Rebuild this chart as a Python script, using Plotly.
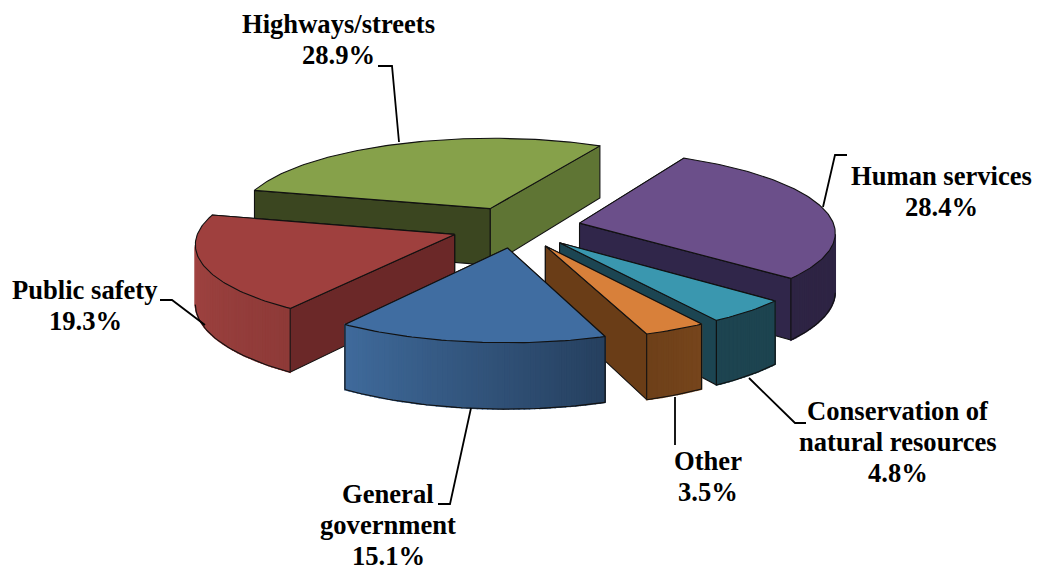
import numpy as np
import plotly.graph_objects as go

# Budget shares in clockwise order around the pie
categories = ["Highways/streets", "Human services", "Conservation of natural resources",
              "Other", "General government", "Public safety"]
shares = [28.9, 28.4, 4.8, 3.5, 15.1, 19.3]

# Label text, one entry per printed line (the percentage line is added from the share)
label_lines = [["Highways/streets"], ["Human services"], ["Conservation of", "natural resources"],
               ["Other"], ["General", "government"], ["Public safety"]]

# Pie geometry (pixels on the hidden axes)
CX, CY = 516, 227
R, RY_RATIO = 255, 0.317
EXPLODE = 65
THICK = 58
PERSP = 0.1
FIRST_SLICE_END = 28.0  # angle, clockwise from the back, where the first slice ends

palette = {
    "Highways/streets": dict(top="#86A14A", cut0="#3B4620", cut1="#5F7534", rim=("#5F7534", "#5F7534")),
    "Human services": dict(top="#6B4F8A", cut0="#30264A", cut1="#30264A", rim=("#2E2444", "#2E2444")),
    "Conservation of natural resources": dict(top="#3A97AF", cut0="#1C4552", cut1="#1C4552", rim=("#1D4450", "#1D4450")),
    "Other": dict(top="#D8803A", cut0="#6A3D17", cut1="#6A3D17", rim=("#76451C", "#6E4019")),
    "General government": dict(top="#406DA1", cut0="#2A4468", cut1="#2A4468", rim=("#26405F", "#3F6A9B")),
    "Public safety": dict(top="#9F403E", cut0="#6B2828", cut1="#6B2828", rim=("#8E3A38", "#A04341")),
}

paint_order = ["Highways/streets", "Human services", "Public safety",
               "Conservation of natural resources", "Other", "General government"]


def project(px, py, z=0.0):
    """Plane point (px right, py back) at drop z -> screen pixels with perspective."""
    px, py = np.asarray(px, float), np.asarray(py, float)
    s = 1.0 / (1.0 + PERSP * py / R)
    return CX + px * s, CY + (-py * RY_RATIO + z) * s


def hex_mix(a, b, t):
    ca = np.array([int(a[i:i + 2], 16) for i in (1, 3, 5)])
    cb = np.array([int(b[i:i + 2], 16) for i in (1, 3, 5)])
    c = (ca + (cb - ca) * t).round().astype(int)
    return "#%02X%02X%02X" % tuple(c)


def polygon(fig, x, y, fill, line="#111111", width=1.1, closed=True):
    x, y = list(x), list(y)
    if closed:
        x, y = x + [x[0]], y + [y[0]]
    fig.add_trace(go.Scatter(x=x, y=y, mode="lines", fill="toself" if fill else "none",
                             fillcolor=fill, line=dict(color=line, width=width),
                             hoverinfo="skip", showlegend=False))


# Angular extents of every slice, derived from the shares
spans = {}
start = FIRST_SLICE_END - shares[0] * 3.6
for name, share in zip(categories, shares):
    spans[name] = (start, start + share * 3.6)
    start += share * 3.6

fig = go.Figure()

for name in paint_order:
    a0, a1 = spans[name]
    mid = np.radians((a0 + a1) / 2)
    ox, oy = EXPLODE * np.sin(mid), EXPLODE * np.cos(mid)
    th = np.radians(np.linspace(a0, a1, max(12, int(a1 - a0))))
    rim_px = ox + R * np.sin(th)
    rim_py = oy + R * np.cos(th)
    style = palette[name]

    # the two flat cuts running out from the apex, the one further back first
    cuts = []
    for ang, col in ((th[0], style["cut0"]), (th[-1], style["cut1"])):
        ex, ey = ox + R * np.sin(ang), oy + R * np.cos(ang)
        xs0, ys0 = project([ox, ex], [oy, ey], 0)
        xs1, ys1 = project([ox, ex], [oy, ey], THICK)
        cuts.append((ys0[1], [xs0[0], xs0[1], xs1[1], xs1[0]], [ys0[0], ys0[1], ys1[1], ys1[0]], col))
    for _, qx, qy, col in sorted(cuts, key=lambda c: c[0]):
        polygon(fig, qx, qy, col)

    # outer wall: only where the arc runs right-to-left on screen does it face the viewer
    xt_all, yt_all = project(rim_px, rim_py, 0)
    idx = np.where(np.gradient(xt_all) < 0)[0]
    if len(idx) > 1:
        xt, yt = xt_all[idx], yt_all[idx]
        xb, yb = project(rim_px[idx], rim_py[idx], THICK)
        n = len(idx) - 1
        for i in range(n):
            c = hex_mix(style["rim"][0], style["rim"][1], i / max(n - 1, 1))
            polygon(fig, [xt[i], xt[i + 1], xb[i + 1], xb[i]], [yt[i], yt[i + 1], yb[i + 1], yb[i]], c, line=c, width=1.5)
        # edge lines: bottom arc, plus a vertical only where the wall ends at a cut
        polygon(fig, xb, yb, None, closed=False)
        if idx[0] == 0:
            polygon(fig, [xt[0], xb[0]], [yt[0], yb[0]], None, closed=False)
        if idx[-1] == len(th) - 1:
            polygon(fig, [xt[-1], xb[-1]], [yt[-1], yb[-1]], None, closed=False)

    # top face
    xt, yt = project(np.r_[ox, rim_px], np.r_[oy, rim_py], 0)
    polygon(fig, xt, yt, style["top"])

# Leader lines from the labels to their slices
leaders = [
    ([378, 392, 399], [66, 66, 142]),
    ([847, 835, 823], [155, 155, 207]),
    ([806, 795, 749], [423, 423, 378]),
    ([675, 675], [445, 397]),
    ([438, 450, 471], [504, 504, 408]),
    ([160, 172, 205], [300, 300, 325]),
]
for lx, ly in leaders:
    fig.add_trace(go.Scatter(x=lx, y=ly, mode="lines", line=dict(color="#000000", width=1.8),
                             hoverinfo="skip", showlegend=False))

# centre x and first-line y of each label, then the spacing between its lines
label_anchor = [(338, 24), (941, 176), (898, 411), (708, 461), (388, 494), (85, 290)]
LINE_STEP = 31
for lines, share, (lx, ly) in zip(label_lines, shares, label_anchor):
    for i, t in enumerate(lines + [f"{share}%"]):
        fig.add_annotation(x=lx, y=ly + i * LINE_STEP, xref="x", yref="y", showarrow=False,
                           text=f"<b>{t}</b>",
                           font=dict(family="Liberation Serif", size=26.6, color="#000000"))

fig.update_layout(width=1039, height=570, margin=dict(l=0, r=0, t=0, b=0),
                  paper_bgcolor="white", plot_bgcolor="white", showlegend=False,
                  xaxis=dict(range=[0, 1039], visible=False, fixedrange=True),
                  yaxis=dict(range=[570, 0], visible=False, fixedrange=True))

fig.write_html("out.html")
